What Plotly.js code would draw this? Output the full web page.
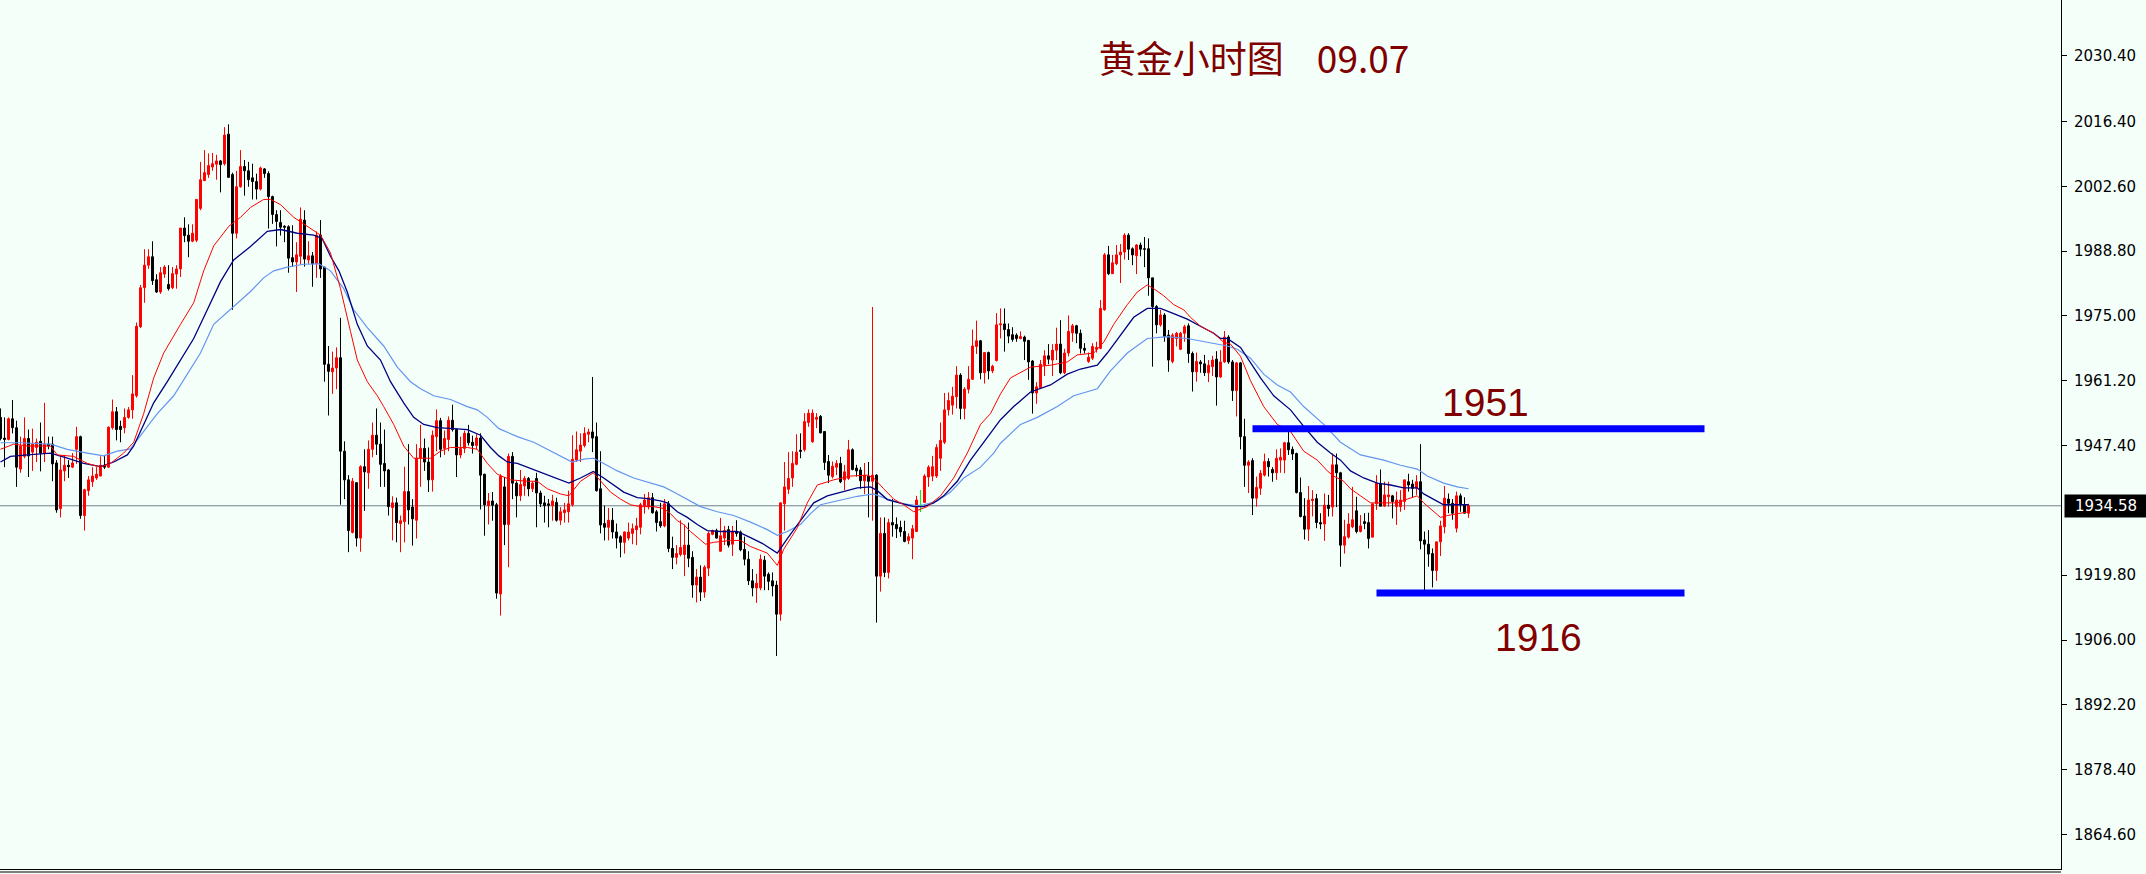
<!DOCTYPE html>
<html>
<head>
<meta charset="utf-8">
<script src="https://cdn.plot.ly/plotly-3.0.1.min.js"></script>
<style>
html,body{margin:0;padding:0;background:#F5FFFA;overflow:hidden;}
#chart{width:2146px;height:874px;}
</style>
</head>
<body>
<div id="chart"></div>
<script>
// ---------------- DATA (hourly gold candles) ----------------
const open = [
1953.4,1949.0,1948.7,1953.1,1951.2,1942.4,1945.1,1948.9,1946.0,1947.0,
1948.3,1945.8,1947.7,1947.7,1943.7,1934.0,1942.0,1943.2,1942.8,1946.6,
1949.3,1932.5,1937.8,1939.7,1940.5,1940.9,1943.2,1942.8,1951.2,1954.6,
1951.5,1951.2,1953.4,1955.0,1958.0,1972.7,1981.0,1985.8,1987.6,1982.7,
1980.1,1983.9,1981.7,1981.0,1983.9,1985.0,1993.7,1992.2,1990.9,1991.1,
1997.9,2003.8,2005.1,2006.7,2007.3,2008.0,2007.4,2013.7,2005.1,1992.6,
2002.5,2006.8,2005.9,2004.4,2003.6,2002.0,2006.3,2005.3,2000.4,1996.6,
1994.9,1994.1,1994.0,1987.4,1986.5,1987.7,1995.4,1986.9,1987.8,1986.1,
1992.2,1985.4,1964.7,1963.1,1963.9,1966.1,1946.2,1940.1,1928.9,1939.5,
1927.7,1942.9,1941.6,1946.6,1949.6,1947.7,1943.6,1942.2,1934.2,1935.2,
1930.8,1931.2,1937.6,1934.3,1931.5,1944.7,1946.8,1943.9,1940.1,1949.3,
1952.7,1946.8,1948.7,1952.8,1950.8,1945.4,1946.8,1950.0,1948.1,1947.4,
1949.0,1941.3,1934.6,1935.6,1934.8,1915.8,1938.6,1930.6,1945.1,1939.4,
1936.7,1938.8,1940.4,1938.2,1940.4,1937.3,1935.2,1935.0,1934.6,1935.3,
1931.5,1933.1,1933.3,1934.8,1944.3,1946.2,1947.4,1949.8,1950.3,1949.3,
1938.2,1930.8,1930.0,1931.5,1929.0,1928.0,1926.8,1927.7,1928.7,1929.5,
1930.0,1934.6,1934.4,1936.3,1933.3,1931.2,1930.3,1935.0,1925.5,1923.6,
1924.2,1924.2,1926.2,1923.6,1917.7,1919.4,1916.2,1921.3,1928.5,1929.3,
1924.9,1927.7,1929.5,1926.4,1929.0,1929.0,1925.3,1923.2,1918.6,1917.1,
1917.1,1923.0,1920.0,1918.6,1917.7,1911.5,1935.0,1938.1,1940.5,1943.4,
1946.4,1946.5,1952.3,1948.2,1953.0,1953.6,1950.4,1944.0,1940.8,1942.8,
1943.6,1940.1,1940.4,1946.5,1942.6,1942.2,1939.9,1940.9,1939.8,1941.1,
1919.6,1928.7,1920.4,1931.0,1930.6,1930.0,1929.1,1927.2,1927.7,1929.1,
1934.6,1935.3,1940.7,1940.9,1940.9,1944.7,1948.1,1955.0,1956.0,1957.8,
1962.4,1955.3,1959.4,1961.5,1968.5,1969.7,1962.9,1967.2,1963.3,1965.5,
1973.1,1973.3,1972.1,1971.0,1970.9,1970.2,1970.5,1969.8,1965.4,1958.6,
1959.7,1964.5,1966.5,1965.6,1967.7,1969.0,1962.9,1967.1,1971.4,1972.9,
1971.3,1968.1,1965.3,1966.0,1967.9,1968.1,1976.3,1988.0,1984.0,1986.1,
1988.0,1988.6,1992.2,1989.3,1987.8,1990.1,1989.3,1989.3,1983.1,1977.0,
1973.1,1975.2,1970.9,1965.3,1970.2,1967.9,1971.3,1972.9,1967.0,1963.1,
1965.2,1964.8,1962.9,1964.2,1965.8,1962.0,1965.2,1970.5,1965.2,1959.1,
1965.0,1949.3,1943.2,1944.2,1936.2,1938.3,1941.1,1944.0,1942.3,1941.6,
1944.3,1944.3,1948.0,1946.6,1945.7,1937.4,1932.4,1929.6,1935.7,1936.1,
1931.0,1930.7,1934.7,1934.3,1943.3,1941.6,1926.2,1927.9,1930.1,1933.5,
1929.1,1931.2,1931.0,1927.9,1935.0,1939.2,1934.5,1936.5,1936.7,1934.4,
1934.4,1935.5,1939.7,1939.2,1938.3,1939.7,1927.3,1926.4,1924.4,1920.8,
1926.9,1930.1,1936.0,1935.1,1929.8,1936.7,1934.7,1933.0
];
const high = [
1955.3,1953.4,1953.4,1957.1,1952.7,1949.3,1953.4,1950.8,1951.0,1948.9,
1952.3,1956.5,1949.3,1949.3,1944.3,1945.4,1945.4,1944.3,1945.8,1951.4,
1949.5,1938.2,1940.9,1942.8,1942.8,1945.1,1945.4,1951.5,1957.2,1955.6,
1952.7,1955.3,1955.6,1962.4,1973.6,1981.6,1989.2,1989.2,1990.9,1983.9,
1985.4,1985.8,1985.8,1985.4,1985.8,1993.7,1996.0,1994.5,1994.5,1999.8,
2007.8,2010.3,2009.6,2009.7,2009.3,2008.2,2015.2,2015.8,2005.5,2005.9,
2010.3,2008.2,2007.8,2007.4,2005.3,2006.8,2006.5,2005.8,2000.6,1997.5,
1997.5,1994.3,1994.3,1994.3,1990.7,1998.1,1997.5,1990.9,1988.6,1993.0,
1995.4,1985.4,1968.6,1967.4,1968.3,1974.6,1948.3,1941.1,1940.5,1939.6,
1943.2,1946.6,1948.5,1952.3,1955.3,1952.3,1950.8,1942.4,1936.6,1936.3,
1932.5,1942.9,1947.7,1936.0,1947.7,1951.8,1948.9,1947.0,1950.6,1955.1,
1953.3,1950.6,1953.6,1956.1,1951.0,1949.3,1950.6,1951.8,1949.5,1949.8,
1950.0,1941.4,1937.3,1937.5,1935.2,1941.3,1940.7,1945.7,1946.0,1939.8,
1942.2,1940.9,1940.7,1939.8,1941.6,1937.8,1936.7,1936.0,1936.9,1936.3,
1934.3,1935.2,1937.8,1949.6,1950.4,1950.0,1951.3,1951.0,1962.0,1952.3,
1946.2,1934.6,1934.1,1934.1,1930.8,1928.3,1929.1,1931.0,1930.8,1932.0,
1935.2,1937.1,1937.5,1937.3,1933.7,1935.2,1936.0,1935.6,1928.0,1926.2,
1931.5,1930.6,1931.0,1924.9,1921.1,1921.9,1921.9,1929.1,1929.5,1929.7,
1932.0,1930.3,1930.3,1930.3,1931.5,1929.3,1928.0,1924.9,1921.1,1920.1,
1924.2,1923.9,1920.4,1920.4,1918.6,1935.3,1943.9,1946.0,1946.2,1949.8,
1950.0,1954.3,1955.1,1955.1,1954.3,1953.9,1950.4,1945.4,1944.0,1944.3,
1945.0,1943.3,1948.6,1946.8,1943.3,1942.8,1943.7,1943.9,1976.9,1941.3,
1932.1,1932.1,1931.8,1936.0,1932.1,1931.4,1931.4,1928.7,1930.5,1936.7,
1937.85,1941.3,1943.2,1945.2,1947.7,1952.3,1958.6,1958.7,1959.9,1964.3,
1962.8,1959.8,1964.3,1972.1,1974.0,1969.9,1967.3,1967.4,1964.6,1975.6,
1976.6,1976.6,1973.4,1972.6,1971.3,1971.7,1970.8,1969.8,1965.6,1960.9,
1965.6,1967.7,1969.0,1969.0,1972.5,1974.1,1968.0,1975.1,1973.3,1973.1,
1972.1,1969.2,1967.2,1969.2,1969.5,1978.4,1988.4,1989.9,1988.0,1990.1,
1990.3,1992.6,1992.6,1989.6,1990.3,1990.6,1991.8,1991.5,1983.1,1977.3,
1976.3,1975.6,1972.0,1971.3,1971.6,1971.6,1973.1,1973.4,1967.4,1967.2,
1965.6,1966.7,1965.6,1966.5,1967.5,1967.7,1971.8,1970.9,1965.6,1965.2,
1965.2,1953.1,1944.3,1944.7,1940.8,1942.2,1945.7,1944.7,1942.8,1946.6,
1946.8,1948.2,1950.4,1947.2,1945.9,1940.6,1936.2,1938.8,1937.9,1937.1,
1933.0,1937.2,1936.9,1945.7,1945.7,1941.8,1931.6,1933.0,1938.6,1936.5,
1932.6,1933.0,1933.1,1935.0,1941.1,1942.3,1939.7,1939.7,1936.9,1937.6,
1937.9,1940.1,1941.4,1940.1,1941.1,1947.7,1929.1,1929.4,1925.5,1926.9,
1931.4,1938.8,1937.2,1936.0,1937.6,1937.2,1936.4,1935.0
];
const low = [
1948.5,1942.8,1948.5,1950.0,1938.6,1941.6,1944.7,1940.7,1942.0,1943.9,
1941.9,1943.9,1946.6,1939.8,1933.1,1932.1,1939.8,1940.5,1942.6,1943.5,
1931.8,1929.3,1936.7,1938.6,1940.1,1940.9,1942.4,1942.6,1950.8,1948.5,
1948.1,1950.0,1953.1,1953.1,1957.6,1972.4,1977.8,1985.0,1981.6,1979.9,
1979.7,1983.1,1980.4,1980.7,1980.8,1983.3,1990.7,1987.5,1990.7,1990.7,
1997.5,2003.8,2004.4,2005.9,2004.0,2001.3,2007.0,2004.4,1976.3,1991.5,
2002.3,2000.6,2002.5,1999.8,1999.8,2001.7,2004.4,1993.6,1994.6,1989.8,
1992.1,1990.7,1984.2,1985.4,1980.1,1986.0,1985.5,1986.1,1981.2,1983.1,
1983.1,1961.0,1953.8,1958.4,1959.4,1934.8,1936.0,1924.7,1928.7,1925.9,
1924.8,1933.5,1938.2,1944.9,1945.4,1938.6,1938.6,1932.5,1927.2,1926.8,
1924.7,1926.8,1930.6,1926.1,1927.6,1938.6,1942.0,1937.5,1937.6,1946.2,
1944.9,1945.4,1946.2,1950.4,1940.7,1944.7,1945.8,1947.4,1945.7,1946.6,
1933.8,1928.2,1930.6,1931.4,1914.8,1911.2,1926.2,1921.5,1936.0,1932.1,
1935.6,1936.7,1936.6,1937.5,1930.0,1934.3,1931.0,1930.0,1931.4,1931.2,
1930.5,1931.0,1931.0,1934.4,1943.9,1943.9,1947.0,1948.1,1946.0,1937.6,
1928.7,1927.2,1927.2,1927.6,1925.5,1923.6,1924.4,1927.2,1926.4,1926.2,
1928.5,1932.9,1933.8,1932.9,1929.1,1929.9,1930.0,1924.7,1921.1,1922.1,
1923.8,1919.6,1921.5,1915.0,1914.0,1914.3,1915.0,1919.6,1928.3,1927.6,
1924.9,1926.2,1925.7,1923.9,1928.0,1924.9,1921.9,1917.7,1915.3,1913.9,
1916.6,1916.6,1916.6,1915.3,1902.6,1910.1,1929.3,1937.1,1938.6,1943.2,
1944.7,1946.1,1951.4,1948.0,1951.1,1950.0,1942.2,1939.4,1940.4,1941.1,
1939.4,1937.9,1940.1,1942.1,1940.8,1938.2,1937.1,1932.1,1931.4,1909.7,
1916.3,1919.4,1919.1,1928.0,1927.7,1928.0,1926.8,1926.4,1923.2,1929.0,
1933.3,1935.2,1938.6,1939.8,1940.5,1942.0,1947.7,1953.8,1954.0,1955.3,
1953.0,1953.0,1958.5,1961.4,1966.9,1961.5,1960.6,1961.5,1962.8,1965.3,
1970.2,1967.4,1969.2,1969.5,1969.5,1970.0,1965.6,1961.4,1954.2,1956.3,
1959.5,1962.2,1964.7,1962.2,1965.6,1962.6,1962.6,1966.4,1969.5,1969.2,
1967.0,1967.0,1965.0,1965.6,1967.2,1967.9,1976.1,1983.7,1983.9,1985.8,
1982.0,1987.0,1986.9,1985.8,1983.9,1987.7,1985.4,1979.3,1964.2,1971.3,
1972.7,1969.5,1963.1,1964.9,1968.5,1967.7,1969.5,1965.0,1958.9,1961.0,
1962.9,1962.2,1960.9,1962.2,1955.9,1961.8,1965.0,1964.8,1956.9,1953.6,
1946.6,1938.6,1937.3,1932.6,1934.4,1936.9,1940.8,1940.8,1939.7,1940.1,
1941.6,1941.5,1945.4,1944.3,1937.2,1932.1,1927.4,1927.1,1932.3,1929.8,
1929.6,1927.1,1932.3,1932.3,1934.3,1921.6,1924.4,1927.6,1929.8,1928.7,
1928.9,1929.6,1925.5,1927.9,1933.7,1934.5,1934.4,1934.4,1931.9,1930.5,
1933.3,1933.7,1937.6,1936.4,1936.9,1925.3,1916.3,1921.6,1917.2,1918.6,
1923.9,1928.7,1933.0,1931.6,1928.9,1933.3,1933.0,1932.0
];
const close = [
1948.9,1948.7,1953.1,1951.2,1942.8,1947.3,1948.9,1945.2,1947.7,1948.1,
1945.8,1947.7,1947.3,1943.5,1933.7,1942.2,1943.2,1942.9,1943.7,1949.3,
1932.5,1938.0,1940.1,1940.9,1941.3,1943.2,1942.8,1951.3,1954.6,1950.8,
1950.8,1953.4,1955.0,1958.4,1972.8,1981.0,1985.8,1987.6,1982.5,1980.1,
1984.2,1985.4,1980.8,1984.0,1985.0,1993.7,1992.1,1990.9,1992.6,1999.8,
2004.0,2005.5,2007.0,2007.4,2008.0,2007.2,2013.5,2004.5,1992.6,2002.5,
2006.8,2005.9,2004.0,2003.6,2002.0,2006.5,2005.3,2000.4,1996.6,1995.1,
1993.9,1993.9,1987.3,1986.5,1988.0,1995.6,1987.1,1987.8,1986.1,1992.2,
1985.0,1964.7,1963.2,1963.9,1966.1,1946.2,1940.1,1929.3,1939.8,1927.7,
1942.9,1941.8,1946.6,1949.6,1947.7,1943.4,1942.0,1934.4,1935.2,1931.0,
1931.4,1937.6,1933.7,1931.8,1944.7,1946.8,1943.9,1940.1,1949.6,1952.7,
1946.6,1948.9,1952.8,1950.8,1945.4,1946.8,1950.0,1948.0,1947.4,1949.0,
1941.1,1934.8,1935.6,1934.7,1916.0,1940.9,1930.6,1945.1,1939.4,1936.7,
1939.1,1940.4,1938.2,1939.4,1937.3,1935.0,1934.6,1934.7,1935.6,1931.5,
1933.3,1933.7,1935.0,1944.5,1946.5,1947.5,1950.0,1950.3,1949.0,1937.8,
1930.5,1930.0,1931.5,1929.0,1927.7,1926.8,1929.0,1929.0,1929.7,1930.3,
1934.8,1935.8,1936.3,1933.1,1931.0,1930.3,1935.0,1925.5,1923.6,1924.4,
1925.7,1926.2,1923.4,1917.7,1919.4,1916.2,1921.5,1928.7,1929.3,1927.7,
1928.2,1929.3,1926.2,1929.0,1928.7,1925.2,1923.2,1918.6,1917.1,1918.1,
1923.2,1919.6,1918.5,1917.5,1911.5,1935.2,1938.6,1940.4,1943.6,1946.0,
1946.2,1952.5,1954.3,1954.3,1953.4,1950.1,1943.8,1941.1,1943.0,1943.6,
1939.7,1941.8,1946.5,1942.3,1942.0,1939.9,1941.1,1939.8,1941.1,1919.6,
1928.7,1920.4,1931.0,1930.5,1929.7,1929.0,1927.0,1928.0,1929.7,1935.8,
1934.6,1940.9,1942.8,1942.9,1947.0,1948.5,1955.0,1957.0,1957.9,1962.4,
1955.3,1959.4,1961.5,1968.6,1969.7,1962.9,1967.2,1963.3,1964.3,1973.1,
1973.3,1972.1,1970.7,1970.0,1970.2,1970.6,1969.6,1965.2,1958.6,1959.9,
1964.7,1966.5,1965.8,1967.7,1969.0,1962.9,1967.1,1971.7,1972.9,1971.3,
1968.1,1967.7,1966.2,1968.5,1968.3,1976.6,1988.0,1984.0,1986.3,1988.0,
1988.6,1992.2,1989.2,1988.0,1990.1,1989.2,1989.2,1983.1,1977.0,1973.1,
1975.2,1970.6,1965.6,1970.9,1971.3,1971.3,1972.7,1967.0,1963.1,1965.3,
1964.8,1962.9,1964.5,1965.6,1962.0,1965.2,1970.5,1965.2,1959.1,1965.0,
1949.3,1943.2,1943.9,1936.2,1938.5,1941.5,1944.0,1942.9,1941.6,1944.7,
1944.9,1948.0,1946.5,1945.6,1937.4,1932.3,1929.6,1935.8,1936.0,1931.0,
1930.7,1934.7,1934.0,1943.3,1941.6,1926.2,1928.0,1930.7,1931.6,1929.1,
1930.3,1930.8,1927.6,1935.0,1939.4,1934.5,1936.9,1936.9,1935.5,1935.8,
1935.8,1940.1,1939.0,1938.3,1939.7,1927.1,1926.4,1924.3,1920.8,1926.9,
1930.3,1936.2,1935.1,1933.0,1936.7,1935.0,1933.0,1934.58
];

// moving averages (candle index, price)
const maFastX = [0,3.3,6.7,12.5,14.2,18.3,21.7,25,27.5,30.8,33.3,35.8,38.3,40.8,45,48.3,50.8,53.3,57.1,60,62.5,65.8,67.5,70,73.3,77.5,80,82.5,85,87.5,89.2,91.7,94.2,95.8,98.3,100.8,103.3,107.5,110,112.5,116.7,119.2,121.7,124.2,127.5,131.7,134.2,136.7,140,142.1,145,148.2,150,152.5,155,157.5,160,163.3,165.8,167.5,169.2,170.8,172.5,175,176.25,178.3,182.5,185,187.5,191.7,194.2,195.8,199.2,201.7,204.2,208.3,212.5,216.7,218.3,220.8,223.3,225.8,228.3,231.7,235,238.3,241.7,245,247.5,250,252.5,257.5,262.5,266.7,269.2,273.3,275.8,278.3,281.7,284.2,286.7,288.3,290.8,293.3,295.8,297.5,300,303.3,305.8,307.5,310,312.5,315.8,319.2,322.5,325.8,329.2,331.7,333.3,335.8,337.5,340,342.5,345.8,349.2,351.7,354.2,355.8,358.3,360,361.7,364.2,367];
const maFastY = [1946.6,1947.7,1947.3,1947.3,1945.4,1945.1,1943.6,1942.8,1943.6,1945.8,1948.1,1954.2,1961.8,1967.1,1973.2,1977.8,1984.6,1989.9,1994.1,1996.0,1998.1,1999.8,1999.8,1998.7,1996.0,1993.7,1992.2,1988.4,1980.8,1971.7,1965.6,1961.0,1958.0,1955.7,1951.9,1947.3,1944.7,1944.7,1946.2,1947.0,1947.0,1946.6,1943.6,1941.3,1940.1,1939.8,1939.8,1938.2,1937.1,1936.7,1939.8,1941.6,1939.8,1937.5,1936.0,1934.8,1934.4,1934.4,1934.0,1932.9,1931.4,1930.6,1929.1,1927.2,1926.4,1926.8,1927.2,1927.2,1925.9,1924.5,1921.9,1925.3,1929.9,1935.2,1939.0,1940.1,1940.9,1941.1,1940.5,1938.2,1936.0,1934.8,1933.3,1934.4,1936.7,1940.5,1945.8,1951.9,1954.2,1958.4,1961.8,1964.1,1964.5,1965.2,1966.7,1967.1,1969.4,1973.2,1977.4,1980.1,1981.6,1980.8,1979.3,1977.4,1976.3,1974.7,1972.8,1971.3,1969.4,1969.0,1966.4,1961.2,1955.7,1951.9,1950.4,1946.2,1944.3,1942.0,1940.9,1939.8,1938.2,1936.7,1935.2,1935.2,1935.2,1936.0,1936.7,1935.2,1933.3,1932.1,1932.5,1932.9,1933.3];
const maMidX = [0,2.5,6.7,12.5,16.7,20.8,25,28.3,31.7,33.3,35.8,38.3,41.7,45,48.3,51.7,55,58.3,62.5,66.7,70,74.2,78.3,80.4,82.5,84.6,86.7,89.2,91.7,95,97.5,100.8,103.3,105.8,109.2,113.3,116.7,120,122.5,124.6,126.7,129.2,131.7,134.2,137.5,142.1,145,148.2,150.8,153.3,155.8,159.2,161.7,165,166.7,169.2,171.7,174.2,176.7,180,184.2,187.5,190.8,194.2,196.7,200,203.3,206.7,210,214.2,217.5,219.2,221.7,225,228.3,230.8,233.3,235.8,239.2,242.5,245.8,250,253.3,257.5,262.5,266.7,270,274.2,276.7,280,283.3,286.7,290,293.3,296.7,300,303.3,305,306.7,310,312.5,315,318.3,322.5,325.8,329.2,332.5,335,337.5,340.8,344.2,347.5,350.8,354.2,355.8,358.3,360.8,364.2,367];
const maMidY = [1943.9,1945.1,1945.4,1945.8,1944.7,1943.6,1942.9,1943.9,1945.4,1947.3,1951.9,1956.5,1961.0,1965.6,1970.2,1976.3,1982.3,1986.9,1989.8,1993.0,1993.4,1992.6,1992.2,1991.5,1987.7,1984.6,1980.1,1973.2,1968.6,1965.6,1961.0,1956.5,1953.4,1951.9,1951.2,1951.0,1950.8,1949.6,1947.0,1945.2,1943.9,1943.6,1942.8,1942.0,1940.9,1939.4,1940.5,1941.9,1940.5,1939.0,1937.5,1936.3,1936.1,1935.6,1935.2,1933.3,1932.1,1930.6,1929.3,1929.1,1929.1,1927.8,1926.4,1924.5,1927.6,1931.4,1935.2,1936.7,1937.5,1938.4,1938.6,1937.8,1935.9,1935.2,1934.4,1934.4,1935.2,1936.7,1939.8,1944.3,1948.1,1952.9,1955.7,1958.8,1960.3,1962.6,1963.7,1964.5,1967.1,1970.9,1974.7,1976.6,1976.6,1975.5,1974.3,1972.8,1971.3,1970.2,1970.2,1968.3,1965.0,1961.8,1958.0,1955.0,1951.5,1948.1,1945.8,1944.3,1942.0,1940.5,1939.4,1939.0,1938.4,1938.4,1937.1,1936.0,1934.8,1934.8,1934.8];
const maSlowX = [0,5,12.5,16.7,21.7,25.8,29.2,32.5,35.8,39.2,43.3,46.7,50,53.3,57.5,62.5,65.8,68.3,71.7,75.8,79.6,82.5,85.8,88.3,91.7,95.8,99.2,102.5,105,108.3,112.5,116.7,119.2,121.7,124.6,129.2,133.3,136.7,140,142.9,145.8,148.3,150.8,154.2,158.3,162.5,165.8,168.3,170.8,175,179.2,183.3,187.5,191.7,194.2,196.7,200,202.5,205,209.2,214.2,218.3,221.7,225.8,229.2,230.8,234.2,237.5,240.8,245,248.3,250,255,259.2,264.2,268.3,274.2,277.5,281.7,286.7,291.7,296.7,301.7,306.7,309.2,312.5,315.8,319.2,322.5,325.8,330.8,335,340,345.8,350,354.2,356.7,360.8,364.2,367];
const maSlowY = [1948.0,1948.0,1947.7,1946.6,1945.8,1945.2,1946.2,1946.7,1950.4,1954.2,1958.0,1962.6,1967.1,1973.2,1976.3,1980.2,1983.1,1984.6,1985.4,1986.0,1986.1,1984.6,1980.8,1976.3,1972.5,1968.6,1964.1,1961.0,1959.5,1958.0,1957.2,1955.7,1955.0,1953.4,1951.0,1949.3,1948.1,1946.6,1945.1,1943.9,1944.5,1944.7,1943.6,1942.0,1940.5,1939.4,1938.6,1937.5,1936.3,1934.4,1933.3,1932.5,1931.1,1929.5,1928.3,1929.1,1930.6,1932.9,1934.8,1935.6,1936.6,1937.1,1936.0,1935.0,1934.6,1934.8,1935.6,1937.5,1940.5,1942.8,1945.8,1947.9,1951.9,1953.4,1955.7,1958.0,1959.5,1963.3,1967.1,1970.2,1970.6,1970.2,1969.4,1968.6,1967.9,1966.0,1962.6,1960.3,1958.8,1955.7,1951.9,1948.1,1945.4,1944.3,1943.2,1942.4,1940.9,1939.4,1938.6,1938.2];

// support / resistance levels
const levelPrices = [1951, 1916];
const levelLabels = ['1951', '1916'];

// price-axis ticks
const tickValues = [2030.40, 2016.40, 2002.60, 1988.80, 1975.00, 1961.20, 1947.40, 1919.80, 1906.00, 1892.20, 1878.40, 1864.60];
const tickLabels = ['2030.40','2016.40','2002.60','1988.80','1975.00','1961.20','1947.40','1919.80','1906.00','1892.20','1878.40','1864.60'];

const chartTitle = '黄金小时图\u00a0\u00a0\u00a0\u00a009.07';

// ---------------- LAYOUT CONSTANTS ----------------
const W = 2146, H = 874;
const PLOT_RIGHT = 2061, PLOT_BOTTOM = 869;
const PX_PER_BAR = 4;
const Y_TOP = 2042.26, PX_PER_USD = 4.697;
const LEVEL_SPANS = [[313, 426], [344, 421]];
const LEVEL_LABEL_X = [371.25, 384.5];
const LEVEL_LABEL_SHIFT = [26, -44];
const BG = '#F5FFFA';

const idx = close.map((_, i) => i);
const last = close.length - 1;

const traces = [];
traces.push({
  type: 'candlestick',
  x: idx, open: open, high: high, low: low, close: close,
  increasing: {line: {color: '#FF0000', width: 1}, fillcolor: '#FF0000'},
  decreasing: {line: {color: '#000000', width: 1}, fillcolor: '#000000'},
  whiskerwidth: 0,
  hoverinfo: 'skip',
  showlegend: false
});

// doji candles (open == close) drawn in lime like the terminal does
const dx = [], dy = [];
idx.forEach(i => {
  if (open[i] === close[i]) {
    dx.push(i, i, null, i - 0.4, i + 0.4, null);
    dy.push(high[i], low[i], null, open[i], open[i], null);
  }
});
traces.push({type: 'scatter', mode: 'lines', x: dx, y: dy, line: {color: '#00FF00', width: 1}, hoverinfo: 'skip', showlegend: false});

traces.push({type: 'scatter', mode: 'lines', x: maSlowX, y: maSlowY, line: {color: '#6495ED', width: 1.2}, hoverinfo: 'skip', showlegend: false});
traces.push({type: 'scatter', mode: 'lines', x: maMidX, y: maMidY, line: {color: '#000080', width: 1.3}, hoverinfo: 'skip', showlegend: false});
traces.push({type: 'scatter', mode: 'lines', x: maFastX, y: maFastY, line: {color: '#FF0000', width: 1}, hoverinfo: 'skip', showlegend: false});

levelPrices.forEach((p, k) => {
  traces.push({type: 'scatter', mode: 'lines', x: LEVEL_SPANS[k], y: [p, p],
    line: {color: '#0000FF', width: 7}, hoverinfo: 'skip', showlegend: false});
});

const plotH = PLOT_BOTTOM;
const yRange = [Y_TOP - plotH / PX_PER_USD, Y_TOP];
const xStart = -0.5 / PX_PER_BAR;
const xRange = [xStart, xStart + PLOT_RIGHT / PX_PER_BAR];

const annotations = levelPrices.map((p, k) => ({
  xref: 'x', yref: 'y', x: LEVEL_LABEL_X[k], y: p, yshift: LEVEL_LABEL_SHIFT[k],
  text: levelLabels[k], showarrow: false, xanchor: 'center', yanchor: 'middle',
  font: {family: 'Liberation Sans, Arial, sans-serif', size: 39, color: '#800000'}
}));
annotations.push({
  xref: 'paper', yref: 'y', x: 1, xshift: 3, y: close[last], xanchor: 'left', yanchor: 'middle',
  text: close[last].toFixed(2), showarrow: false, bgcolor: '#000000', borderpad: 2, width: 78, align: 'center',
  font: {family: 'DejaVu Sans, sans-serif', size: 15, color: '#FFFFFF'}
});

const layout = {
  width: W, height: H,
  margin: {l: 0, r: W - PLOT_RIGHT, t: 0, b: H - PLOT_BOTTOM, pad: 0},
  paper_bgcolor: BG, plot_bgcolor: BG,
  showlegend: false,
  title: {text: chartTitle, x: 1254 / W, xref: 'container', xanchor: 'center', y: 1 - 60 / H, yref: 'container', yanchor: 'middle',
    font: {family: 'Noto Sans CJK SC, sans-serif', size: 37, color: '#800000'}},
  xaxis: {range: xRange, showgrid: false, zeroline: false, showticklabels: false, ticks: '',
    showline: true, linecolor: '#000000', linewidth: 1, rangeslider: {visible: false}, fixedrange: true},
  yaxis: {side: 'right', range: yRange, tickmode: 'array', tickvals: tickValues, ticktext: tickLabels,
    ticks: 'outside', ticklen: 5, tickcolor: '#000000', tickwidth: 1, ticklabelstandoff: 4,
    showline: true, linecolor: '#000000', linewidth: 1, showgrid: false, zeroline: false,
    tickfont: {family: 'DejaVu Sans, sans-serif', size: 15, color: '#000000'}, fixedrange: true},
  shapes: [
    {type: 'line', xref: 'paper', x0: 0, x1: 1, yref: 'y', y0: close[last], y1: close[last],
     line: {color: '#708090', width: 1}, layer: 'below'},
    {type: 'line', xref: 'paper', x0: 0, x1: 1, yref: 'paper', y0: -3 / PLOT_BOTTOM, y1: -3 / PLOT_BOTTOM,
     line: {color: '#000000', width: 1}}
  ],
  annotations: annotations
};

Plotly.newPlot('chart', traces, layout, {displayModeBar: false, staticPlot: true});
</script>
</body>
</html>
